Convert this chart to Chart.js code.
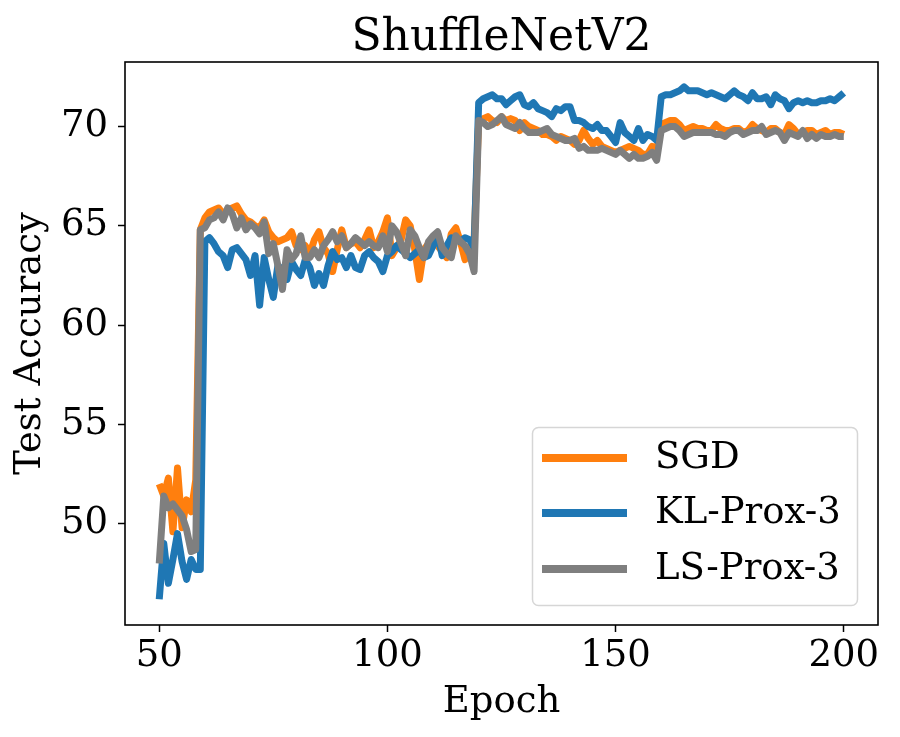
<!DOCTYPE html>
<html>
<head>
<meta charset="utf-8">
<script src="https://cdn.jsdelivr.net/npm/chart.js@4/dist/chart.umd.min.js"></script>
<style>
  html, body { margin: 0; padding: 0; background: #fff; }
  #wrap { width: 900px; height: 737px; }
</style>
</head>
<body>
<div id="wrap"><canvas id="myChart" width="900" height="737"></canvas></div>
<script>
var chartTitle = 'ShuffleNetV2';
var xLabel = 'Epoch';
var yLabel = 'Test Accuracy';
var seriesNames = ['SGD', 'KL-Prox-3', 'LS-Prox-3'];
var seriesColors = ['#ff7f0e', '#1f77b4', '#7f7f7f'];

var xTicks = [50, 100, 150, 200];
var yTicks = [50, 55, 60, 65, 70];

var epochs = [
  50, 51, 52, 53, 54, 55, 56, 57, 58, 59,
  60, 61, 62, 63, 64, 65, 66, 67, 68, 69,
  70, 71, 72, 73, 74, 75, 76, 77, 78, 79,
  80, 81, 82, 83, 84, 85, 86, 87, 88, 89,
  90, 91, 92, 93, 94, 95, 96, 97, 98, 99,
  100, 101, 102, 103, 104, 105, 106, 107, 108, 109,
  110, 111, 112, 113, 114, 115, 116, 117, 118, 119,
  120, 121, 122, 123, 124, 125, 126, 127, 128, 129,
  130, 131, 132, 133, 134, 135, 136, 137, 138, 139,
  140, 141, 142, 143, 144, 145, 146, 147, 148, 149,
  150, 151, 152, 153, 154, 155, 156, 157, 158, 159,
  160, 161, 162, 163, 164, 165, 166, 167, 168, 169,
  170, 171, 172, 173, 174, 175, 176, 177, 178, 179,
  180, 181, 182, 183, 184, 185, 186, 187, 188, 189,
  190, 191, 192, 193, 194, 195, 196, 197, 198, 199, 200
];

var sgd = [
  52.0, 51.4, 52.3, 49.6, 52.8, 49.8, 51.2, 50.6, 52.2, 64.8,
  65.4, 65.7, 65.8, 65.9, 65.6, 65.8, 65.9, 66.0, 65.6, 65.3,
  65.2, 65.0, 64.9, 65.3, 64.7, 64.4, 64.2, 64.3, 64.4, 64.7,
  64.0, 63.8, 64.0, 63.6, 64.3, 64.7, 63.9, 63.6, 62.7, 63.8,
  64.8, 63.9, 64.1, 64.2, 63.9, 64.3, 64.8, 63.9, 64.2, 64.7,
  65.4, 63.5, 63.9, 64.3, 65.3, 65.0, 63.8, 62.3, 63.8, 64.1,
  64.3, 64.0, 63.7, 63.4, 64.6, 64.9, 64.2, 63.3, 63.9, 64.3,
  70.3, 70.4, 70.5, 70.3, 70.2, 70.5, 70.3, 70.4, 70.3, 69.8,
  70.2, 70.0, 69.9, 69.8, 69.6, 69.6, 69.5, 69.3, 69.5, 69.4,
  69.3, 69.1, 69.3, 69.8, 69.4, 69.1, 69.3, 69.0, 68.9, 68.8,
  68.7, 68.8, 68.9, 69.0, 68.9, 68.8, 68.6, 68.6, 69.0, 68.8,
  70.1, 70.2, 70.3, 70.3, 70.1, 69.8, 69.9, 70.0, 69.9, 69.9,
  69.8, 69.8, 70.1, 69.9, 69.8, 69.8, 69.9, 69.9, 69.7, 69.8,
  70.1, 69.9, 69.8, 69.7, 69.9, 69.9, 69.7, 69.6, 70.1, 69.9,
  69.6, 69.7, 69.8, 69.8, 69.6, 69.7, 69.8, 69.6, 69.7, 69.7, 69.6
];

var klProx3 = [
  46.2, 49.0, 47.0, 48.2, 49.5, 48.1, 47.2, 48.2, 47.7, 47.7,
  64.2, 64.4, 64.1, 63.7, 63.5, 62.9, 63.8, 63.9, 63.6, 63.3,
  62.5, 63.5, 61.0, 63.4, 62.3, 61.4, 63.0, 62.8, 62.3, 63.2,
  62.8, 62.5, 63.3, 62.9, 62.0, 62.6, 62.0, 63.0, 63.7, 63.3,
  63.4, 62.9, 63.5, 62.9, 62.8, 63.5, 63.7, 63.4, 63.2, 62.7,
  63.5, 63.7, 64.0, 63.8, 63.6, 63.4, 63.6, 63.8, 63.4, 63.5,
  64.0, 64.6, 63.5, 64.0, 64.4, 64.3, 64.2, 64.4, 64.3, 63.9,
  71.2, 71.4, 71.5, 71.6, 71.4, 71.4, 71.1, 71.3, 71.5, 71.6,
  71.1, 71.0, 71.2, 70.9, 70.8, 70.7, 70.5, 70.9, 70.8, 71.0,
  71.0, 70.3, 70.3, 70.2, 70.0, 69.9, 70.1, 69.8, 69.8, 69.5,
  69.2, 70.2, 69.7, 69.5, 69.3, 69.9, 69.3, 69.6, 69.5, 69.3,
  71.5, 71.6, 71.6, 71.7, 71.8, 72.0, 71.8, 71.8, 71.8, 71.7,
  71.6, 71.7, 71.6, 71.5, 71.4, 71.6, 71.8, 71.6, 71.5, 71.3,
  71.7, 71.4, 71.4, 71.5, 71.1, 71.6, 71.4, 71.3, 70.9, 71.2,
  71.3, 71.2, 71.3, 71.2, 71.2, 71.3, 71.3, 71.4, 71.3, 71.5, 71.7
];

var lsProx3 = [
  48.0, 51.4, 50.8, 51.0, 50.7, 50.4, 49.7, 48.6, 48.7, 64.8,
  64.9, 65.3, 65.4, 65.7, 65.3, 65.9, 65.6, 64.9, 65.4, 64.8,
  65.1, 64.9, 64.6, 65.2, 63.6, 64.1, 63.0, 61.8, 63.8, 63.3,
  63.6, 64.5, 63.4, 63.4, 63.8, 63.4, 64.0, 64.3, 64.7, 64.2,
  64.5, 63.9, 64.1, 64.4, 64.2, 64.0, 64.2, 64.0, 63.9, 64.5,
  63.7, 65.0, 64.7, 64.1, 63.5, 64.8, 64.5, 63.9, 63.4, 64.2,
  64.5, 64.7, 63.9, 63.6, 63.4, 64.5, 64.2, 64.0, 63.6, 62.7,
  70.3, 70.2, 70.0, 70.1, 70.3, 70.5, 70.1, 70.0, 69.9, 70.2,
  69.9, 69.7, 69.7, 69.7, 69.8, 69.9, 69.6, 69.5, 69.4, 69.3,
  69.3, 69.4, 68.9, 69.0, 68.8, 68.8, 68.8, 68.9, 68.8, 68.7,
  68.6, 68.8, 68.6, 68.4, 68.6, 68.4, 68.4, 68.5, 68.7, 68.3,
  69.8, 69.9, 70.0, 70.0, 69.8, 69.5, 69.6, 69.7, 69.7, 69.7,
  69.7, 69.7, 69.6, 69.6, 69.5, 69.7, 69.8, 69.8, 69.6, 69.7,
  69.8, 69.8, 70.0, 69.6, 69.7, 69.8, 69.7, 69.3, 69.7, 69.6,
  69.5, 69.8, 69.4, 69.6, 69.4, 69.6, 69.5, 69.5, 69.6, 69.5, 69.5
];

var FONT = "'DejaVu Serif', serif";
var FONT_SIZE = 37;
var TITLE_SIZE = 44;

function points(values) {
  return epochs.map(function(e, i) { return {x: e, y: values[i]}; });
}

// title, full axes frame and the matplotlib-style legend box
var extras = {
  id: 'extras',
  afterDatasetsDraw: function(chart) {
    var ctx = chart.ctx;
    var a = chart.chartArea;
    ctx.save();
    ctx.strokeStyle = '#000';
    ctx.lineWidth = 1.6;
    ctx.strokeRect(a.left, a.top, a.right - a.left, a.bottom - a.top);

    // legend
    var bx = 532.5, by = 427.5, bw = 325, bh = 178, r = 6;
    ctx.beginPath();
    ctx.moveTo(bx + r, by);
    ctx.lineTo(bx + bw - r, by);
    ctx.arcTo(bx + bw, by, bx + bw, by + r, r);
    ctx.lineTo(bx + bw, by + bh - r);
    ctx.arcTo(bx + bw, by + bh, bx + bw - r, by + bh, r);
    ctx.lineTo(bx + r, by + bh);
    ctx.arcTo(bx, by + bh, bx, by + bh - r, r);
    ctx.lineTo(bx, by + r);
    ctx.arcTo(bx, by, bx + r, by, r);
    ctx.closePath();
    ctx.fillStyle = 'rgba(255,255,255,0.8)';
    ctx.fill();
    ctx.strokeStyle = '#d6d6d6';
    ctx.lineWidth = 1.5;
    ctx.stroke();

    var rows = [458, 513, 569];
    ctx.font = FONT_SIZE + 'px ' + FONT;
    ctx.textBaseline = 'middle';
    ctx.textAlign = 'left';
    for (var i = 0; i < seriesNames.length; i++) {
      ctx.strokeStyle = seriesColors[i];
      ctx.lineWidth = 8;
      ctx.lineCap = 'butt';
      ctx.beginPath();
      ctx.moveTo(542, rows[i]);
      ctx.lineTo(627, rows[i]);
      ctx.stroke();
      ctx.fillStyle = '#000';
      ctx.fillText(seriesNames[i], 655, rows[i]);
    }

    // title
    ctx.font = TITLE_SIZE + 'px ' + FONT;
    ctx.textAlign = 'center';
    ctx.textBaseline = 'alphabetic';
    ctx.fillText(chartTitle, (a.left + a.right) / 2, 50);
    ctx.restore();
  }
};

var ctx = document.getElementById('myChart').getContext('2d');

var myChart = new Chart(ctx, {
  type: 'line',
  data: {
    datasets: [
      {label: seriesNames[0], data: points(sgd), borderColor: seriesColors[0], order: 3},
      {label: seriesNames[1], data: points(klProx3), borderColor: seriesColors[1], order: 2},
      {label: seriesNames[2], data: points(lsProx3), borderColor: seriesColors[2], order: 1}
    ]
  },
  options: {
    responsive: false,
    animation: false,
    devicePixelRatio: 1,
    layout: { padding: { top: 62, right: 22, left: 0, bottom: 0 } },
    elements: {
      line: { borderWidth: 7, tension: 0, borderJoinStyle: 'round', borderCapStyle: 'butt', fill: false },
      point: { radius: 0, hoverRadius: 0 }
    },
    scales: {
      x: {
        type: 'linear',
        min: 42.5,
        max: 207.5,
        afterBuildTicks: function(scale) {
          scale.ticks = xTicks.map(function(v) { return {value: v}; });
        },
        afterFit: function(scale) { scale.height = 112; },
        grid: { display: true, drawOnChartArea: false, drawTicks: true, tickLength: 7, tickColor: '#000', tickWidth: 1.5 },
        border: { display: false },
        ticks: { color: '#000', padding: 2, maxRotation: 0, autoSkip: false, font: { family: FONT, size: FONT_SIZE } },
        title: { display: true, text: xLabel, color: '#000', padding: { top: 0, bottom: 12 }, font: { family: FONT, size: FONT_SIZE } }
      },
      y: {
        type: 'linear',
        min: 44.9,
        max: 73.25,
        afterBuildTicks: function(scale) {
          scale.ticks = yTicks.map(function(v) { return {value: v}; });
        },
        afterFit: function(scale) { scale.width = 125; },
        grid: { display: true, drawOnChartArea: false, drawTicks: true, tickLength: 7, tickColor: '#000', tickWidth: 1.5 },
        border: { display: false },
        ticks: { color: '#000', padding: 10, autoSkip: false, font: { family: FONT, size: FONT_SIZE } },
        title: { display: true, text: yLabel, color: '#000', padding: { top: 8, bottom: 0 }, font: { family: FONT, size: FONT_SIZE } }
      }
    },
    plugins: {
      legend: { display: false },
      tooltip: { enabled: false }
    }
  },
  plugins: [extras]
});
</script>
</body>
</html>
